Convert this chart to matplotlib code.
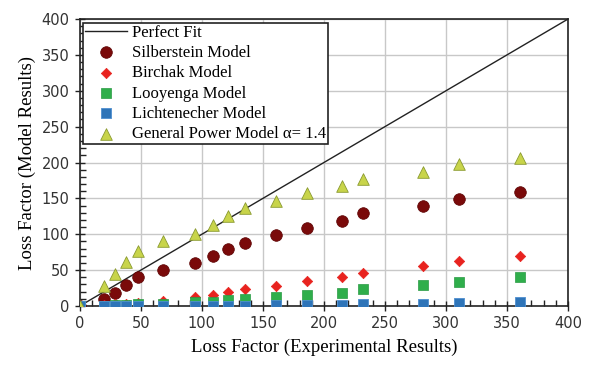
import numpy as np
import matplotlib.pyplot as plt
from matplotlib.ticker import MultipleLocator

# experimental loss factor (x) and model predictions (y)
x_exp = [0, 20, 29, 38, 48, 68, 94, 109, 121, 135, 161, 186, 215, 232, 281, 311, 361]
silberstein = [0, 10, 18, 29, 40, 50, 60, 69, 80, 88, 99, 109, 119, 129, 139, 149, 159]
birchak = [0, 1, 2, 3, 4, 7, 12, 15, 20, 23, 28, 35, 40, 46, 55, 62, 70]
looyenga = [0, 0.5, 1, 1.5, 2, 3, 5, 6, 8, 10, 12, 15, 18, 23, 29, 33, 40]
lichtenecher = [0, 0, 0, 0, 0, 0, 0.5, 0.5, 0.5, 0.5, 1, 1, 1.5, 3, 3, 4.5, 6]
general_power = [0, 28, 45, 61, 76, 90, 101, 113, 125, 136, 146, 157, 167, 177, 187, 198, 206]
fit_line = [0, 400]

serif = 'Liberation Serif'

fig = plt.figure(figsize=(6.01, 3.74), dpi=100)
ax = fig.add_axes([0.133, 0.182, 0.812, 0.767])

ax.plot(fit_line, fit_line, color='#222222', lw=1.0, label='Perfect Fit', zorder=2)
ax.scatter(x_exp, silberstein, marker='o', s=70, color='#7a0a0a', edgecolor='#5a0000',
           lw=0.5, label='Silberstein Model', zorder=3)
ax.scatter(x_exp, birchak, marker='D', s=28, color='#e8231f', edgecolor='#e8231f',
           lw=0.5, label='Birchak Model', zorder=3)
ax.scatter(x_exp, looyenga, marker='s', s=55, color='#2fae4b', edgecolor='#2a9a44',
           lw=0.5, label='Looyenga Model', zorder=3)
ax.scatter(x_exp, lichtenecher, marker='s', s=60, color='#2e74b8', edgecolor='#4f8fd0',
           lw=0.6, label='Lichtenecher Model', zorder=3)
ax.scatter(x_exp, general_power, marker='^', s=70, color='#c8d44a', edgecolor='#8a9a30',
           lw=0.6, label='General Power Model \u03b1= 1.4', zorder=3)

ax.set_xlim(0, 400)
ax.set_ylim(0, 400)
ax.xaxis.set_major_locator(MultipleLocator(50))
ax.yaxis.set_major_locator(MultipleLocator(50))
ax.xaxis.set_minor_locator(MultipleLocator(10))
ax.yaxis.set_minor_locator(MultipleLocator(10))
ax.tick_params(which='major', direction='inout', length=7, width=1, color='#222222',
               labelsize=10.5, labelcolor='#333333', pad=4)
ax.tick_params(which='minor', direction='in', length=4, width=1, color='#222222')
ax.grid(True, which='major', color='#c8c8c8', lw=1)
ax.set_axisbelow(True)
for sp in ax.spines.values():
    sp.set_color('#222222')
    sp.set_linewidth(1.2)

ax.set_xlabel('Loss Factor (Experimental Results)', family=serif, fontsize=13.5, labelpad=5)
ax.set_ylabel('Loss Factor (Model Results)', family=serif, fontsize=13.5, labelpad=4)

leg = ax.legend(loc='upper left', bbox_to_anchor=(0.006, 0.988), prop={'family': serif, 'size': 12},
                frameon=True, fancybox=False, edgecolor='#222222', framealpha=1,
                borderpad=0.12, labelspacing=0.26, handlelength=2.5, handletextpad=0.3,
                borderaxespad=0.0, markerscale=1.0)
leg.get_frame().set_linewidth(1.2)

fig.savefig('out.png', dpi=100)
